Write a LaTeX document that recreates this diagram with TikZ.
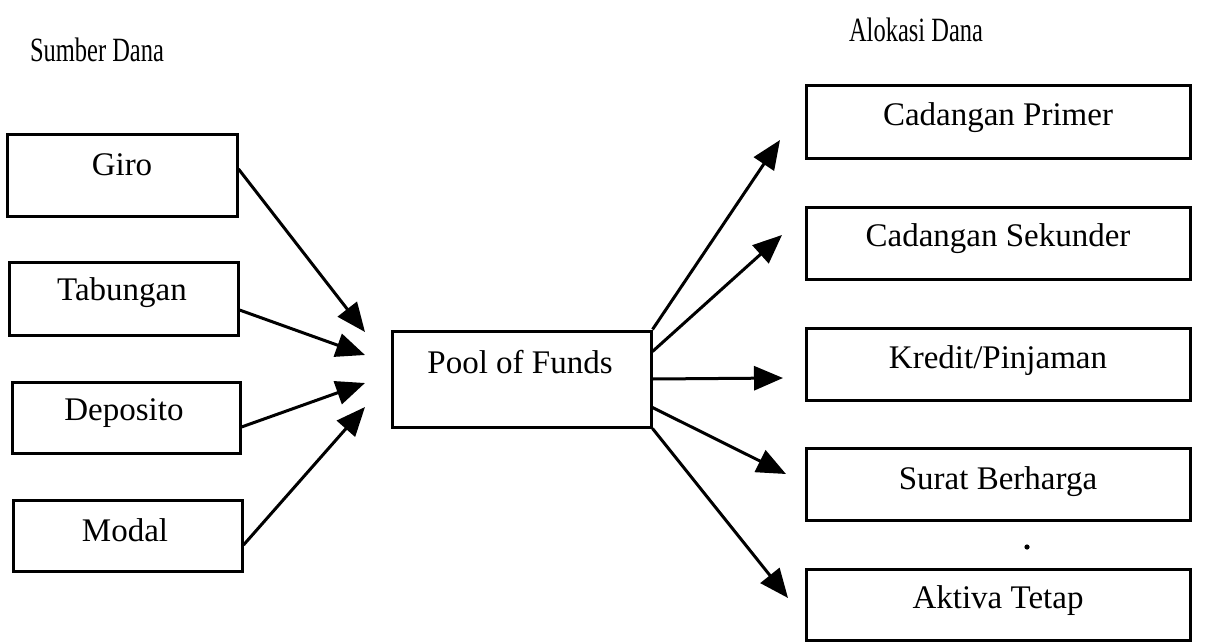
\documentclass[tikz,border=0pt]{standalone}
\usepackage{fontspec}
\setmainfont{Liberation Serif}
\usetikzlibrary{arrows.meta}
\begin{document}
\begin{tikzpicture}[x=0.5pt,y=-0.5pt,
  box/.style={draw, line width=1.5pt, inner sep=0pt},
  lbox/.style={box, minimum width=114.5pt},
  rbox/.style={box, minimum width=192pt, minimum height=36pt},
  txt/.style={font=\fontsize{16.5}{20}\selectfont, inner sep=0pt},
  head/.style={font=\fontsize{17}{20}\selectfont, inner sep=0pt},
  arr/.style={line width=1.5pt, -{Triangle[length=14.5pt,width=12pt]}}]
\useasboundingbox (0,0) rectangle (1214,642);

% headings
\node[head] (hsumber) at (97,50) {\scalebox{0.72}[1]{Sumber Dana}};
\node[head] (halokasi) at (916,30) {\scalebox{0.72}[1]{Alokasi Dana}};

% left boxes
\node[lbox, minimum width=115pt, minimum height=41pt] (giro) at (122,175) {};
\node[lbox, minimum height=36.5pt] (tab) at (123.5,298.5) {};
\node[lbox, minimum width=114pt, minimum height=35.5pt] (dep) at (126,417.5) {};
\node[lbox, minimum height=35.5pt] (mod) at (127.5,535.5) {};
\node[txt] (tgiro) at (122,165) {Giro};
\node[txt] (ttab) at (122,293) {Tabungan};
\node[txt] (tdep) at (124,413) {Deposito};
\node[txt] (tmod) at (125,530) {Modal};

% pool
\node[box, minimum width=129.5pt, minimum height=48pt] (pool) at (521.5,379) {};
\node[txt] (tpool) at (520,362) {Pool of Funds};

% right boxes
\node[rbox] (prim) at (998,122) {};
\node[rbox] (sek) at (998,243) {};
\node[rbox] (kre) at (998,364) {};
\node[rbox] (sur) at (998,484) {};
\node[rbox, minimum height=35.5pt] (akt) at (998,604.5) {};
\node[txt] (tprim) at (998,118) {Cadangan Primer};
\node[txt] (tsek) at (998,239) {Cadangan Sekunder};
\node[txt] (tkre) at (998,361) {Kredit/Pinjaman};
\node[txt] (tsur) at (998,482) {Surat Berharga};
\node[txt] (takt) at (998,601) {Aktiva Tetap};

% arrow tips
\coordinate (l1) at (365,332);
\coordinate (l2) at (365,355);
\coordinate (l3) at (365,383);
\coordinate (l4) at (365,407);
\coordinate (r1) at (780,140);
\coordinate (r2) at (782,235);
\coordinate (r3) at (783,378);
\coordinate (r4) at (786,474);
\coordinate (r5) at (788,598);

% left arrows
\draw[arr] ([yshift=3pt]giro.east) -- (l1);
\draw[arr] ([yshift=-5.75pt]tab.east) -- (l2);
\draw[arr] ([yshift=-4.75pt]dep.east) -- (l3);
\draw[arr] ([yshift=-4.75pt]mod.east) -- (l4);

% right arrows
\draw[arr] (pool.north east) -- (r1);
\draw[arr] ([yshift=-11pt]pool.north east) -- (r2);
\draw[arr] (pool.east) -- (r3);
\draw[arr] ([yshift=10.5pt]pool.south east) -- (r4);
\draw[arr] (pool.south east) -- (r5);

% speck
\fill (1027,547) circle (1.3pt);
\end{tikzpicture}
\end{document}
